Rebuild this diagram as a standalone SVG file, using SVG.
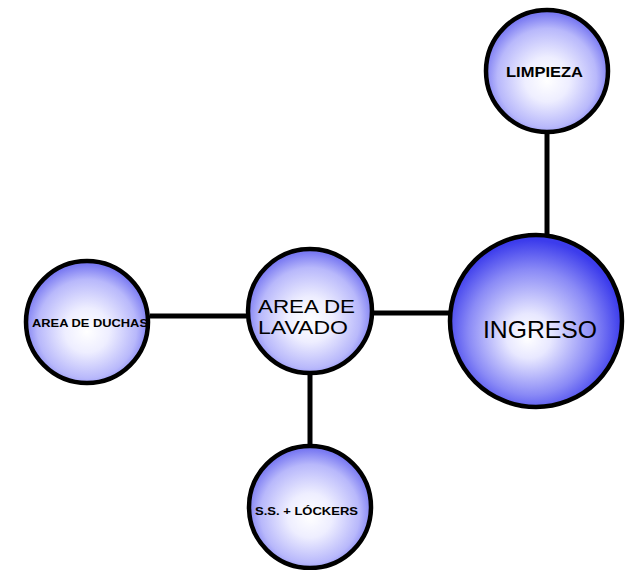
<svg xmlns="http://www.w3.org/2000/svg" width="626" height="570" viewBox="0 0 626 570">
  <defs>
    <radialGradient id="gSmall" cx="0.5" cy="0.55" r="0.52" fx="0.5" fy="0.58">
      <stop offset="0" stop-color="#ffffff"/>
      <stop offset="0.35" stop-color="#eeeeff"/>
      <stop offset="0.78" stop-color="#b8b8fb"/>
      <stop offset="1" stop-color="#7a7af2"/>
    </radialGradient>
    <radialGradient id="gBig" cx="0.48" cy="0.55" r="0.52" fx="0.45" fy="0.6">
      <stop offset="0" stop-color="#ffffff"/>
      <stop offset="0.25" stop-color="#e8e8ff"/>
      <stop offset="0.7" stop-color="#8a8af6"/>
      <stop offset="1" stop-color="#3c3cec"/>
    </radialGradient>
    <style>
      .node { stroke: #000; stroke-width: 4.5; }
      .link { stroke: #000; stroke-width: 5; fill: none; }
      .lbl { font-family: "Liberation Sans", "DejaVu Sans", sans-serif; fill: #000; text-anchor: start; }
      .sm { font-weight: bold; }
    </style>
  </defs>
  <rect width="626" height="570" fill="#ffffff"/>

  <g id="connectors">
    <line class="link" x1="547" y1="132" x2="547" y2="236"/>
    <line class="link" x1="150" y1="316" x2="248" y2="316"/>
    <line class="link" x1="372" y1="313" x2="451" y2="313"/>
    <line class="link" x1="310" y1="374" x2="310" y2="447"/>
  </g>

  <g id="limpieza">
    <circle class="node" cx="547" cy="71" r="61" fill="url(#gSmall)"/>
    <text class="lbl sm" x="506" y="77" font-size="14" textLength="77" lengthAdjust="spacingAndGlyphs">LIMPIEZA</text>
  </g>

  <g id="area-de-duchas">
    <circle class="node" cx="87" cy="322" r="61" fill="url(#gSmall)"/>
    <text class="lbl sm" x="32" y="327" font-size="10" textLength="116" lengthAdjust="spacingAndGlyphs">AREA DE DUCHAS</text>
  </g>

  <g id="area-de-lavado">
    <circle class="node" cx="310" cy="311" r="62" fill="url(#gSmall)"/>
    <text class="lbl" x="258" y="313" font-size="19" textLength="97" lengthAdjust="spacingAndGlyphs">AREA DE</text>
    <text class="lbl" x="258" y="334" font-size="19" textLength="90" lengthAdjust="spacingAndGlyphs">LAVADO</text>
  </g>

  <g id="ingreso">
    <circle class="node" cx="536" cy="321" r="86" fill="url(#gBig)"/>
    <text class="lbl" x="483" y="338" font-size="24" textLength="114" lengthAdjust="spacingAndGlyphs">INGRESO</text>
  </g>

  <g id="ss-lockers">
    <circle class="node" cx="310" cy="507" r="61" fill="url(#gSmall)"/>
    <text class="lbl sm" x="255" y="515" font-size="11" textLength="103" lengthAdjust="spacingAndGlyphs">S.S. + LÓCKERS</text>
  </g>
</svg>
